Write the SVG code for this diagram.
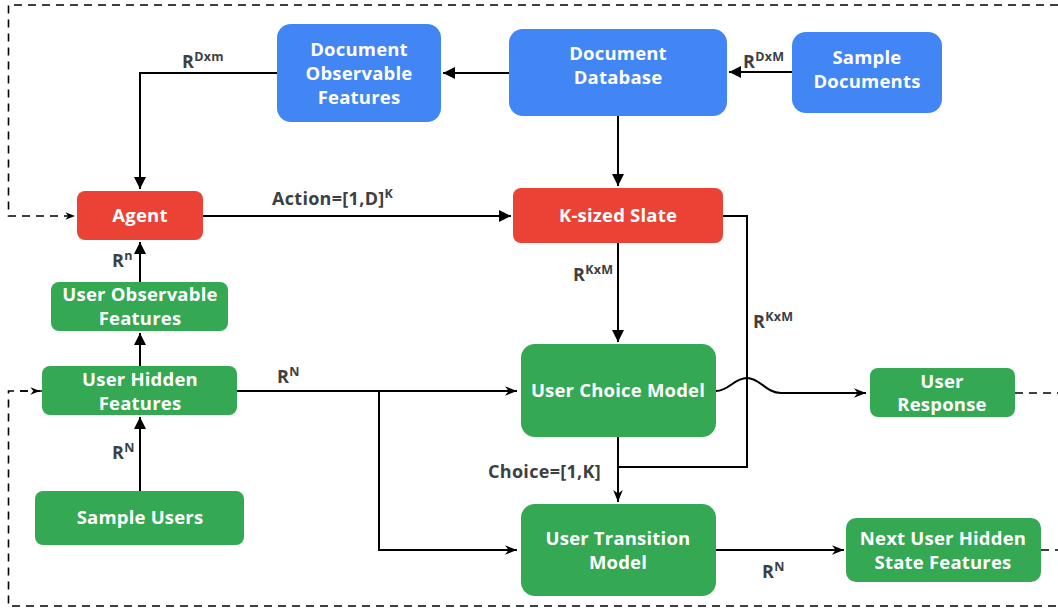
<svg xmlns="http://www.w3.org/2000/svg" width="1058" height="608" viewBox="0 0 1058 608">
<defs>
<style>
.blue{fill:#4285F4}
.red{fill:#EA4335}
.green{fill:#34A853}
.nt{font-family:"Open Sans","Liberation Sans",sans-serif;font-weight:bold;font-size:18.5px;fill:#fff;text-anchor:middle;letter-spacing:0.2px}
.lb{font-family:"Open Sans","Liberation Sans",sans-serif;font-weight:bold;font-size:18px;fill:#3c4043;letter-spacing:0.3px}
.sup{font-size:12.5px}
.ln{fill:none;stroke:#000;stroke-width:2}
.ds{fill:none;stroke:#000;stroke-width:1.6;stroke-dasharray:8 6}
</style>
<marker id="tri" viewBox="0 0 10 10" refX="10" refY="5" markerWidth="6" markerHeight="6" markerUnits="strokeWidth" orient="auto">
<path d="M0,0 L10,5 L0,10 Z" fill="#000"/>
</marker>
<marker id="st" viewBox="0 0 10 10" refX="10" refY="5" markerWidth="6" markerHeight="6" markerUnits="strokeWidth" orient="auto">
<path d="M0,1 L10,5 L0,9 L3,5 Z" fill="#000"/>
</marker>
</defs>
<rect width="1058" height="608" fill="#fff"/>
<g id="connectors">
<path class="ds" d="M1058,5 H8.5 V216 H75" marker-end="url(#st)"/>
<path class="ds" d="M42,391 H8.5 V606 H1058"/>
<path class="ds" d="M1015,393 H1058"/>
<path class="ds" d="M1041,550 H1058"/>
<path class="ds" d="M20,391 H40" marker-end="url(#st)"/>
<path class="ln" d="M509,73 H443" marker-end="url(#tri)"/>
<path class="ln" d="M792,72 H729" marker-end="url(#tri)"/>
<path class="ln" d="M277,73 H140 V189" marker-end="url(#tri)"/>
<path class="ln" d="M618,116 V186" marker-end="url(#tri)"/>
<path class="ln" d="M203,216 H511" marker-end="url(#tri)"/>
<path class="ln" d="M140,282 V242" marker-end="url(#tri)"/>
<path class="ln" d="M140,366 V333" marker-end="url(#tri)"/>
<path class="ln" d="M140,491 V417" marker-end="url(#tri)"/>
<path class="ln" d="M618,243 V342" marker-end="url(#tri)"/>
<path class="ln" d="M237,391 H517" marker-end="url(#st)"/>
<path class="ln" d="M379,391 V550 H517" marker-end="url(#st)"/>
<path class="ln" d="M723,216 H747 V467 H618"/>
<path class="ln" d="M618,437 V502" marker-end="url(#st)"/>
<path class="ln" d="M716,391 C729,391 734,378 747,378 C760,378 766,393 781,393 H866" marker-end="url(#st)"/>
<path class="ln" d="M716,550 H844" marker-end="url(#st)"/>
</g>
<g id="labels">
<text class="lb" x="182" y="68">R<tspan class="sup" dy="-7">Dxm</tspan></text>
<text class="lb" x="743" y="68">R<tspan class="sup" dy="-7">DxM</tspan></text>
<text class="lb" x="272" y="205">Action=[1,D]<tspan class="sup" dy="-7">K</tspan></text>
<text class="lb" x="112" y="267">R<tspan class="sup" dy="-7">n</tspan></text>
<text class="lb" x="112" y="459">R<tspan class="sup" dy="-7">N</tspan></text>
<text class="lb" x="277" y="383">R<tspan class="sup" dy="-7">N</tspan></text>
<text class="lb" x="573" y="281">R<tspan class="sup" dy="-7">KxM</tspan></text>
<text class="lb" x="753" y="328">R<tspan class="sup" dy="-7">KxM</tspan></text>
<text class="lb" x="488" y="478">Choice=[1,K]</text>
<text class="lb" x="762" y="578">R<tspan class="sup" dy="-7">N</tspan></text>
</g>
<g id="doc-observable-features">
<rect class="blue" x="277" y="24" width="164" height="98" rx="14"/>
<text class="nt" x="359" y="56">Document</text>
<text class="nt" x="359" y="80">Observable</text>
<text class="nt" x="359" y="104">Features</text>
</g>
<g id="document-database">
<rect class="blue" x="509" y="29" width="218" height="87" rx="14"/>
<text class="nt" x="618" y="60">Document</text>
<text class="nt" x="618" y="84">Database</text>
</g>
<g id="sample-documents">
<rect class="blue" x="792" y="32" width="150" height="81" rx="14"/>
<text class="nt" x="867" y="64">Sample</text>
<text class="nt" x="867" y="88">Documents</text>
</g>
<g id="agent">
<rect class="red" x="77" y="191" width="126" height="49" rx="8"/>
<text class="nt" x="140" y="222">Agent</text>
</g>
<g id="k-sized-slate">
<rect class="red" x="513" y="188" width="210" height="55" rx="8"/>
<text class="nt" x="618" y="222">K-sized Slate</text>
</g>
<g id="user-observable-features">
<rect class="green" x="51" y="282" width="177" height="49" rx="8"/>
<text class="nt" x="140" y="301">User Observable</text>
<text class="nt" x="140" y="325">Features</text>
</g>
<g id="user-hidden-features">
<rect class="green" x="42" y="366" width="195" height="49" rx="8"/>
<text class="nt" x="140" y="386">User Hidden</text>
<text class="nt" x="140" y="410">Features</text>
</g>
<g id="sample-users">
<rect class="green" x="35" y="491" width="209" height="54" rx="8"/>
<text class="nt" x="140" y="524">Sample Users</text>
</g>
<g id="user-choice-model">
<rect class="green" x="521" y="344" width="195" height="93" rx="14"/>
<text class="nt" x="618" y="397">User Choice Model</text>
</g>
<g id="user-response">
<rect class="green" x="870" y="368" width="145" height="49" rx="8"/>
<text class="nt" x="942" y="388">User</text>
<text class="nt" x="942" y="411">Response</text>
</g>
<g id="user-transition-model">
<rect class="green" x="521" y="504" width="195" height="92" rx="14"/>
<text class="nt" x="618" y="545">User Transition</text>
<text class="nt" x="618" y="569">Model</text>
</g>
<g id="next-user-hidden-state-features">
<rect class="green" x="846" y="518" width="195" height="64" rx="10"/>
<text class="nt" x="943" y="545">Next User Hidden</text>
<text class="nt" x="943" y="569">State Features</text>
</g>
</svg>
